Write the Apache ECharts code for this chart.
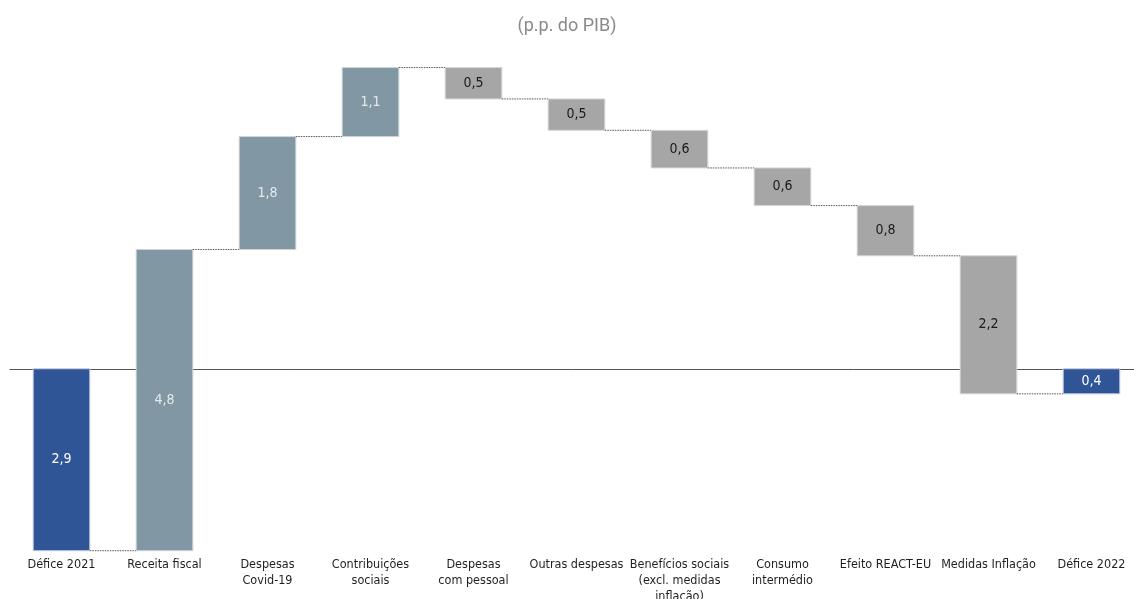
<!DOCTYPE html>
<html>
<head>
<meta charset="utf-8">
<script src="https://cdn.jsdelivr.net/npm/echarts@6/dist/echarts.min.js"></script>
<style>
  html, body { margin: 0; padding: 0; background: #fff; }
  #chart { width: 1134px; height: 599px; }
</style>
</head>
<body>
<div id="chart"></div>
<script>
// Decomposição da variação do défice orçamental, 2021 -> 2022 (p.p. do PIB)
const categories = [
  'Défice 2021', 'Receita fiscal', 'Despesas\nCovid-19', 'Contribuições\nsociais',
  'Despesas\ncom pessoal', 'Outras despesas', 'Benefícios sociais\n(excl. medidas\ninflação)',
  'Consumo\nintermédio', 'Efeito REACT-EU', 'Medidas Inflação', 'Défice 2022'
];
// signed contributions; totals are measured from zero
const values = [-2.9, 4.8, 1.8, 1.1, -0.5, -0.5, -0.6, -0.6, -0.8, -2.2, -0.4];
const kinds = ['total', 'inc', 'inc', 'inc', 'dec', 'dec', 'dec', 'dec', 'dec', 'dec', 'total'];

const colors = { total: '#2F5597', inc: '#8297A4', dec: '#A6A6A6' };
const labelColors = { total: '#ffffff', inc: '#e4e9ec', dec: '#1a1a1a' };
const borderColors = { total: '#c5cfe3', inc: '#cdd5da', dec: '#d6d6d6' };

// running start/end of each bar
const r1 = v => Math.round(v * 10) / 10;
const rows = [];
let running = 0;
values.forEach((v, i) => {
  let start, end;
  if (kinds[i] === 'total') { start = 0; end = v; }
  else { start = running; end = r1(running + v); }
  running = end;
  rows.push([i, start, end, Math.abs(v)]);
});

const chart = echarts.init(document.getElementById('chart'));
chart.setOption({
  animation: false,
  title: {
    text: '(p.p. do PIB)',
    left: 'center',
    top: 12,
    textStyle: { fontFamily: 'Roboto', fontSize: 18, fontWeight: 'normal', color: '#8a8a8a' }
  },
  grid: { left: 10, top: 55, width: 1133, height: 502, outerBoundsMode: 'none', containLabel: false },
  xAxis: {
    type: 'category',
    data: categories,
    axisLine: { onZero: true, lineStyle: { color: '#555', width: 1 } },
    axisTick: { show: false },
    axisLabel: {
      interval: 0,
      color: '#1f1f1f',
      fontFamily: 'DejaVu Sans Condensed',
      fontSize: 12.5,
      lineHeight: 16,
      margin: 0,
      verticalAlign: 'top'
    }
  },
  yAxis: {
    type: 'value',
    min: -3,
    max: 5,
    show: false,
    splitLine: { show: false }
  },
  series: [{
    type: 'custom',
    data: rows,
    encode: { x: 0, y: [1, 2] },
    renderItem: function (params, api) {
      const i = api.value(0);
      const start = api.value(1);
      const end = api.value(2);
      const kind = kinds[i];
      const bw = api.size([1, 0])[0] * 0.55;
      const pStart = api.coord([i, start]);
      const pEnd = api.coord([i, end]);
      const top = Math.min(pStart[1], pEnd[1]);
      const h = Math.abs(pStart[1] - pEnd[1]);
      const children = [{
        type: 'rect',
        shape: { x: pStart[0] - bw / 2, y: top, width: bw, height: h },
        style: { fill: colors[kind], stroke: borderColors[kind], lineWidth: 1 }
      }, {
        type: 'text',
        style: {
          x: pStart[0], y: top + h / 2,
          text: api.value(3).toFixed(1).replace('.', ','),
          fill: labelColors[kind],
          font: '14px "DejaVu Sans Condensed"',
          align: 'center', verticalAlign: 'middle'
        }
      }];
      // dotted connector to the next bar at the running level
      if (i < rows.length - 1) {
        const level = end;
        const a = api.coord([i, level]);
        const b = api.coord([i + 1, level]);
        children.push({
          type: 'line',
          shape: { x1: a[0] + bw / 2, y1: a[1], x2: b[0] - bw / 2, y2: b[1] },
          style: { stroke: '#555', lineWidth: 1, lineDash: [1.5, 1] }
        });
      }
      return { type: 'group', children: children };
    }
  }]
});
</script>
</body>
</html>
